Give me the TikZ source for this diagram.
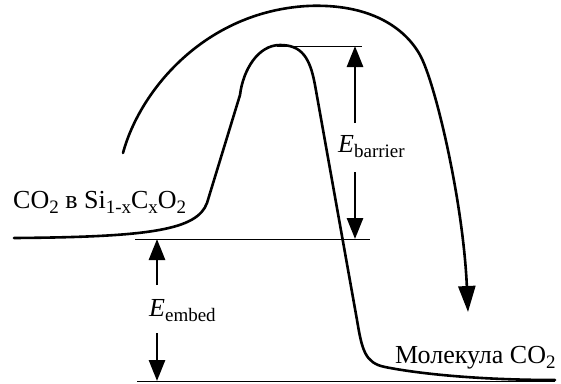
\documentclass[tikz,border=0pt]{standalone}
\usepackage{fontspec}
\setmainfont{Liberation Serif}
\usetikzlibrary{arrows.meta}
\newcommand\lowsub[1]{\raisebox{-5.5pt}{\fontsize{19}{21}\selectfont #1}}
\begin{document}
\begin{tikzpicture}[x=1pt,y=-1pt,
  curve/.style={line width=2.6pt, line cap=round, line join=round},
  thinline/.style={line width=0.8pt},
  energyarrow/.style={line width=2.8pt, -{Triangle[length=21pt,width=16pt]}},
  bigarrow/.style={curve, -{Triangle[length=26pt,width=17pt]}},
  lbl/.style={inner sep=0pt, font=\fontsize{26}{30}\selectfont}]
\useasboundingbox (0,0) rectangle (561,383);

% level lines
\coordinate (topA) at (277,46);
\coordinate (topB) at (362,46);
\coordinate (midA) at (135,239);
\coordinate (midB) at (370,239);
\coordinate (botA) at (137,381);
\coordinate (botB) at (555,381);
\draw[thinline] (topA) -- (topB);
\draw[thinline] (midA) -- (midB);
\draw[thinline] (botA) -- (botB);

% energy curve
\draw[curve] (14,238) .. controls (150,237) and (197,230) .. (207,203)
  -- (240,95)
  .. controls (243,70) and (258,45) .. (280,45)
  .. controls (302,45) and (310,58) .. (315,85)
  -- (357,320)
  .. controls (362,350) and (365,363) .. (385,367)
  .. controls (420,374) and (480,380) .. (555,380);

% big arrow
\coordinate (bigStart) at (123,153);
\coordinate (bigTip) at (468,312);
\draw[bigarrow] (bigStart) .. controls (140,90) and (205,12) .. (307,6)
  .. controls (370,3) and (405,28) .. (420,55)
  .. controls (435,82) and (463,200) .. (bigTip);

% barrier arrows
\coordinate (barTop) at (355,46);
\coordinate (barBot) at (355,239);
\coordinate (barUp) at (355,123);
\coordinate (barDn) at (355,172);
\draw[energyarrow] (barUp) -- (barTop);
\draw[energyarrow] (barDn) -- (barBot);

% embed arrows
\coordinate (embTop) at (157,239);
\coordinate (embBot) at (157,381);
\coordinate (embUp) at (157,285);
\coordinate (embDn) at (157,333);
\draw[energyarrow] (embUp) -- (embTop);
\draw[energyarrow] (embDn) -- (embBot);

% labels
\node[lbl, anchor=base west] (ebar) at (338,152) {\textit{E}\lowsub{barrier}};
\node[lbl, anchor=base west] (eemb) at (149,316) {\textit{E}\lowsub{embed}};
\node[lbl, anchor=base west] (left) at (13,208) {CO\lowsub{2} в Si\lowsub{1-x}C\lowsub{x}O\lowsub{2}};
\node[lbl, anchor=base west] (mol) at (395,363) {Молекула CO\lowsub{2}};
\end{tikzpicture}
\end{document}
